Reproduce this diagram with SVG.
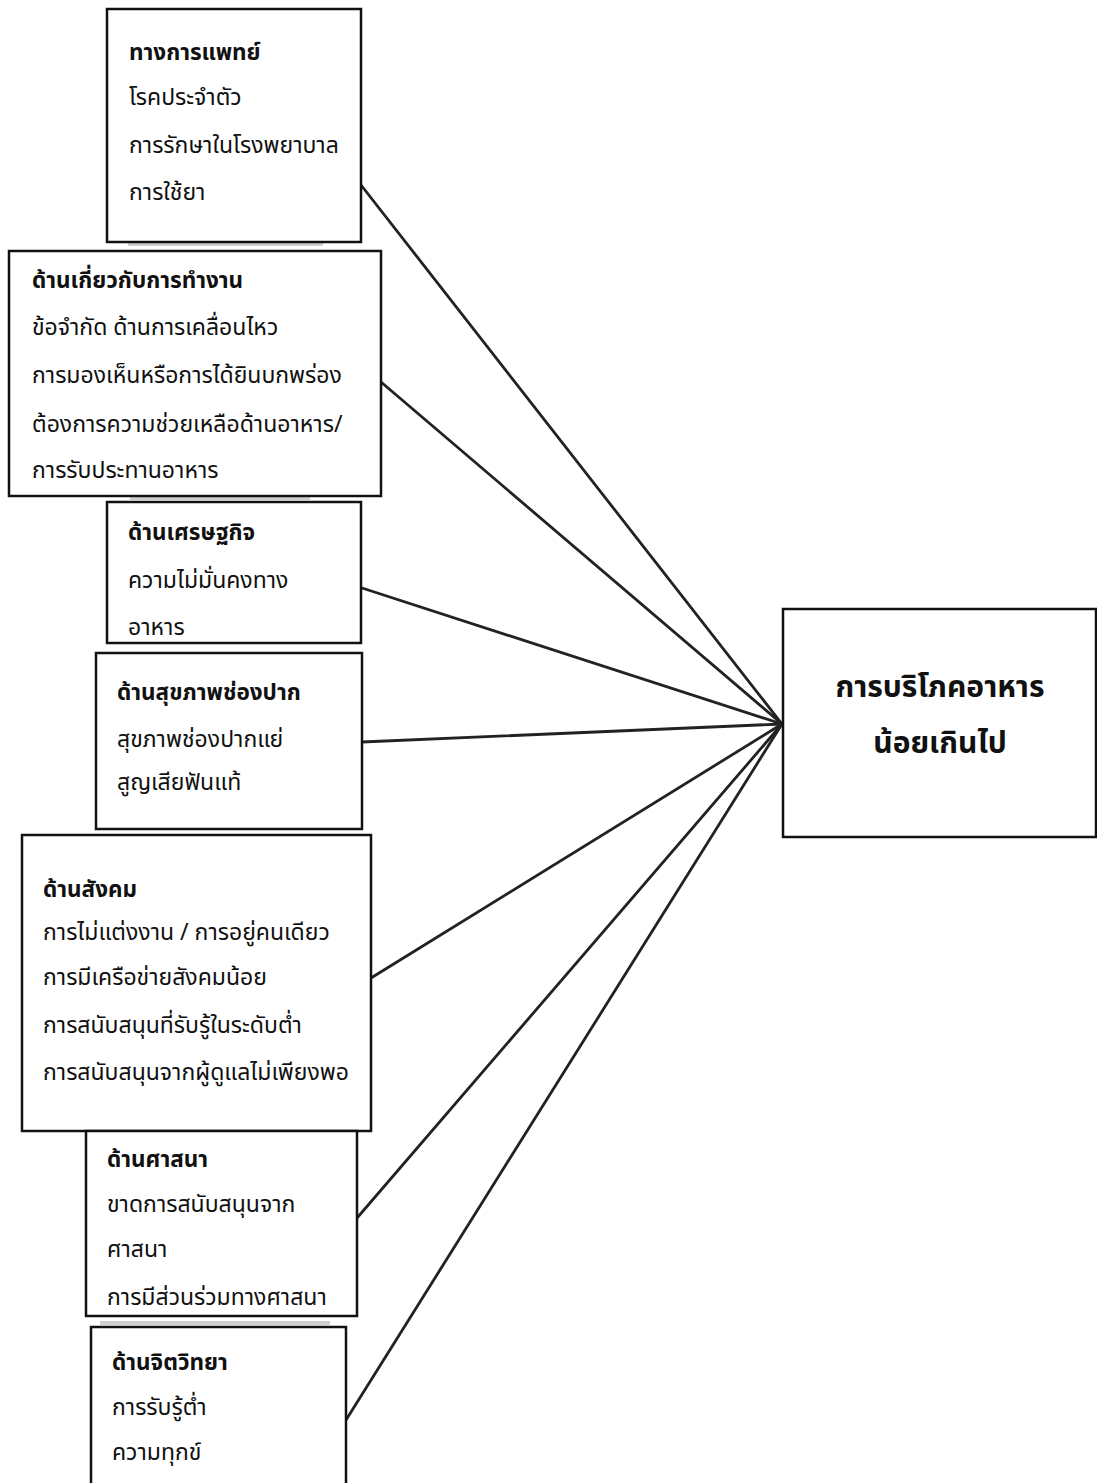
<svg xmlns="http://www.w3.org/2000/svg" width="1097" height="1483" viewBox="0 0 1097 1483">
  <style>
    .box { fill: #fff; stroke: #111; stroke-width: 2.5; }
    .t { font-family: "Noto Sans Thai", "Noto Sans", "DejaVu Sans", sans-serif; font-size: 23px; fill: #111; }
    .h { font-weight: bold; font-size: 22.5px; }
    .big { font-size: 30px; font-weight: bold; text-anchor: middle; }
    .link { stroke: #222; stroke-width: 2.8; fill: none; stroke-linecap: round; }
    .shadow { fill: #cfcfcf; }
  </style>

  <!-- connectors from each factor to the outcome -->
  <g id="connectors">
    <line class="link" x1="361" y1="185" x2="782" y2="724"/>
    <line class="link" x1="381" y1="382" x2="782" y2="724"/>
    <line class="link" x1="362" y1="588" x2="782" y2="724"/>
    <line class="link" x1="362" y1="742" x2="782" y2="724"/>
    <line class="link" x1="371" y1="978" x2="782" y2="724"/>
    <line class="link" x1="357" y1="1218" x2="782" y2="724"/>
    <line class="link" x1="346" y1="1420" x2="782" y2="724"/>
  </g>

  <g id="medical">
    <rect class="shadow" x="128" y="242" width="195" height="4"/>
    <rect class="box" x="107" y="9" width="254" height="233"/>
    <text class="t h" x="129" y="60">ทางการแพทย์</text>
    <text class="t" x="129" y="105">โรคประจำตัว</text>
    <text class="t" x="129" y="153">การรักษาในโรงพยาบาล</text>
    <text class="t" x="129" y="200">การใช้ยา</text>
  </g>

  <g id="functional">
    <rect class="shadow" x="130" y="496" width="180" height="4"/>
    <rect class="box" x="9" y="251" width="372" height="245"/>
    <text class="t h" x="32" y="288">ด้านเกี่ยวกับการทำงาน</text>
    <text class="t" x="32" y="335">ข้อจำกัด ด้านการเคลื่อนไหว</text>
    <text class="t" x="32" y="383">การมองเห็นหรือการได้ยินบกพร่อง</text>
    <text class="t" x="32" y="432">ต้องการความช่วยเหลือด้านอาหาร/</text>
    <text class="t" x="32" y="478">การรับประทานอาหาร</text>
  </g>

  <g id="economic">
    <rect class="box" x="107" y="502" width="254" height="141"/>
    <text class="t h" x="128" y="540">ด้านเศรษฐกิจ</text>
    <text class="t" x="128" y="588">ความไม่มั่นคงทาง</text>
    <text class="t" x="128" y="635">อาหาร</text>
  </g>

  <g id="oral">
    <rect class="box" x="96" y="653" width="266" height="176"/>
    <text class="t h" x="117" y="700">ด้านสุขภาพช่องปาก</text>
    <text class="t" x="117" y="747">สุขภาพช่องปากแย่</text>
    <text class="t" x="117" y="790">สูญเสียฟันแท้</text>
  </g>

  <g id="social">
    <rect class="box" x="22" y="835" width="349" height="296"/>
    <text class="t h" x="43" y="897">ด้านสังคม</text>
    <text class="t" x="43" y="940">การไม่แต่งงาน / การอยู่คนเดียว</text>
    <text class="t" x="43" y="985">การมีเครือข่ายสังคมน้อย</text>
    <text class="t" x="43" y="1033">การสนับสนุนที่รับรู้ในระดับต่ำ</text>
    <text class="t" x="43" y="1080">การสนับสนุนจากผู้ดูแลไม่เพียงพอ</text>
  </g>

  <g id="religion">
    <rect class="box" x="86" y="1131" width="271" height="185"/>
    <text class="t h" x="107" y="1167">ด้านศาสนา</text>
    <text class="t" x="107" y="1212">ขาดการสนับสนุนจาก</text>
    <text class="t" x="107" y="1257">ศาสนา</text>
    <text class="t" x="107" y="1305">การมีส่วนร่วมทางศาสนา</text>
  </g>

  <g id="psychological">
    <rect class="shadow" x="100" y="1321" width="230" height="4"/>
    <rect class="box" x="91" y="1327" width="255" height="170"/>
    <text class="t h" x="112" y="1370">ด้านจิตวิทยา</text>
    <text class="t" x="112" y="1415">การรับรู้ต่ำ</text>
    <text class="t" x="112" y="1460">ความทุกข์</text>
  </g>

  <g id="outcome">
    <rect class="box" x="783" y="609" width="313" height="228"/>
    <text class="t big" x="940" y="697">การบริโภคอาหาร</text>
    <text class="t big" x="940" y="753">น้อยเกินไป</text>
  </g>
</svg>
